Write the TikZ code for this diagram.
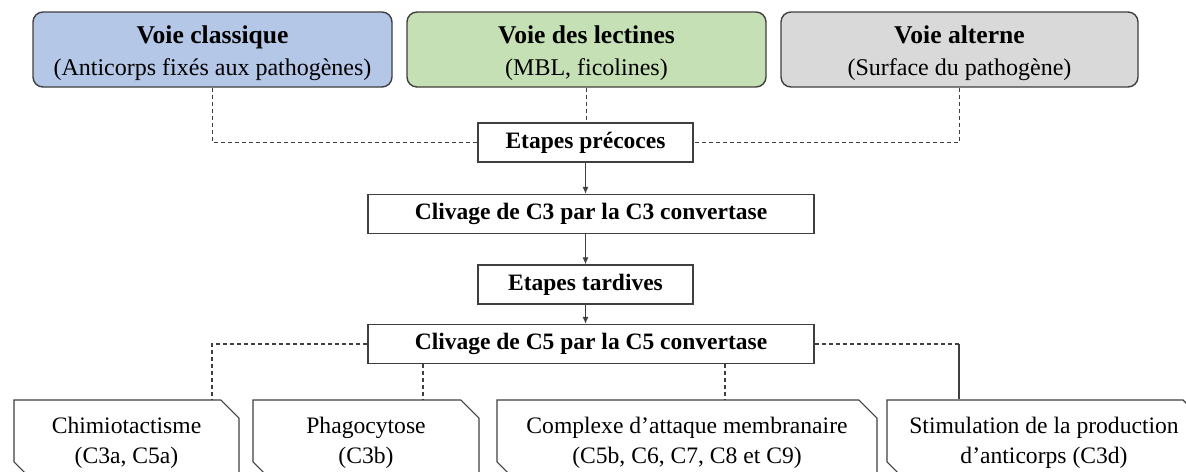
\documentclass[tikz,border=0pt]{standalone}
\usepackage{fontspec}
\setmainfont{Liberation Serif}
\usetikzlibrary{arrows.meta,shapes.misc}
\definecolor{bleuvoie}{HTML}{B4C7E7}
\definecolor{vertvoie}{HTML}{C5E0B4}
\definecolor{grisvoie}{HTML}{D9D9D9}
\definecolor{trait}{HTML}{3F3F3F}
\tikzset{voie/.style={draw=trait,line width=0.7pt,rounded corners=5pt,minimum width=179.5pt,minimum height=37.5pt,align=center,inner sep=0pt,text height=28.9pt,text depth=2.7pt,font=\fontsize{12}{16}\selectfont}}
\tikzset{etape/.style={draw=trait,line width=0.7pt,minimum height=19.5pt,inner sep=0pt,font=\bfseries\fontsize{11.75}{14}\selectfont}}
\tikzset{effet/.style={draw=trait,line width=0.6pt,chamfered rectangle,chamfered rectangle corners={north east,south west},chamfered rectangle xsep=6pt,minimum height=40pt,inner sep=0pt,align=center,text height=26.1pt,text depth=2.6pt,font=\fontsize{11.8}{15}\selectfont}}
\tikzset{lien/.style={draw=trait,line width=0.6pt,dash pattern=on 2pt off 1.5pt}}
\tikzset{fleche/.style={draw=trait,line width=0.5pt,-{Latex[length=3.5pt,width=3pt]}}}

\begin{document}
\begin{tikzpicture}[x=0.5pt,y=-0.5pt]
    \useasboundingbox[fill=white] (0,0) rectangle (1186,471);
    \clip (0,0) rectangle (1186,471);
    % les trois voies
    \node [voie,fill=bleuvoie] (classique) at (212.5,49.5) {\textbf{\fontsize{12.8}{16}\selectfont Voie classique}\\(Anticorps fixés aux pathogènes)};
    \node [voie,fill=vertvoie] (lectines) at (586.5,49.5) {\textbf{\fontsize{12.8}{16}\selectfont Voie des lectines}\\(MBL, ficolines)};
    \node [voie,fill=grisvoie,minimum width=178.5pt] (alterne) at (959.5,49.5) {\textbf{\fontsize{12.8}{16}\selectfont Voie alterne}\\(Surface du pathogène)};
    % etapes
    \node [etape,minimum width=107.5pt] (precoces) at (585.5,142.5) {Etapes précoces};
    \node [etape,minimum width=223pt] (clivC3) at (591,214) {Clivage de C3 par la C3 convertase};
    \node [etape,minimum width=107.5pt] (tardives) at (585.5,284.5) {Etapes tardives};
    \node [etape,minimum width=223pt] (clivC5) at (591,344) {Clivage de C5 par la C5 convertase};
    % effets
    \node [effet,minimum width=112.5pt] (chimio) at (126.5,440) {Chimiotactisme\\(C3a, C5a)};
    \node [effet,minimum width=113pt] (phago) at (366,440) {Phagocytose\\(C3b)};
    \node [effet,minimum width=190pt] (cam) at (687,440) {Complexe d’attaque membranaire\\(C5b, C6, C7, C8 et C9)};
    \node [effet,minimum width=157pt] (stim) at (1044,440) {Stimulation de la production\\d’anticorps (C3d)};

    \draw [lien] (classique.south) |- (precoces.west);
    \draw [lien] (lectines.south) -- (lectines.south |- precoces.north);
    \draw [lien] (alterne.south) |- (precoces.east);
    \draw [fleche] (precoces.south) -- (precoces.south |- clivC3.north);
    \draw [fleche] (clivC3.south -| tardives.north) -- (tardives.north);
    \draw [fleche] (tardives.south) -- (tardives.south |- clivC5.north);

    \coordinate (p1) at ([xshift=42.75pt]chimio.north);
    \coordinate (p2) at ([xshift=28.5pt]phago.north);
    \coordinate (p3) at ([xshift=19pt]cam.north);
    \coordinate (p4) at ([xshift=-42.5pt]stim.north);
    \draw [lien] (clivC5.west) -| (p1);
    \draw [lien] (clivC5.south -| p2) -- (p2);
    \draw [lien] (clivC5.south -| p3) -- (p3);
    \draw [lien] (clivC5.east) -- (clivC5.east -| p4);
    \draw [draw=trait,line width=0.6pt] (clivC5.east -| p4) -- (p4);
\end{tikzpicture}
\end{document}
